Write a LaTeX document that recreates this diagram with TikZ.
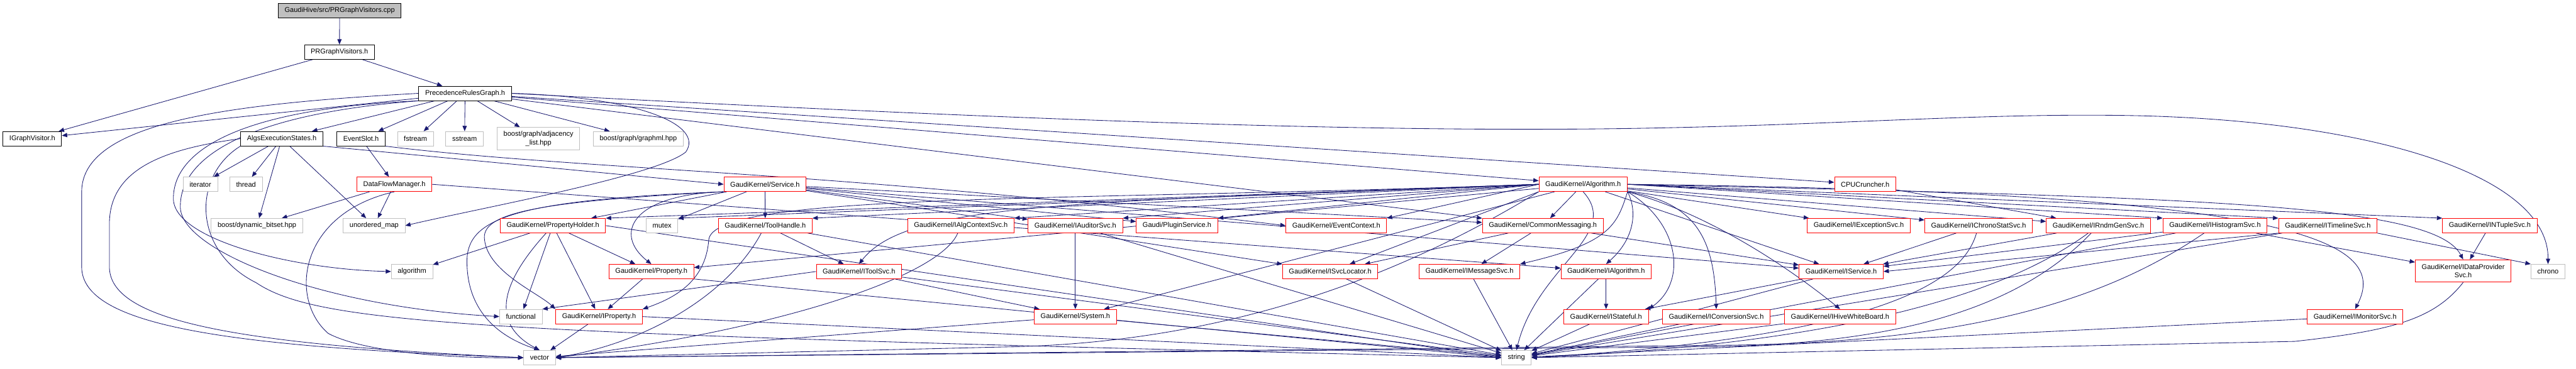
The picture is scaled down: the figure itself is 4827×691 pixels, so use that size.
\documentclass[tikz,border=0pt]{standalone}
\usepackage{fontspec}
\setmainfont{Liberation Sans}
\usetikzlibrary{arrows.meta,backgrounds}
\definecolor{EdgeClr}{HTML}{191970}
\definecolor{ExtClr}{HTML}{BFBFBF}
\definecolor{RootClr}{HTML}{BFBFBF}
\tikzset{
  filebox/.style={rectangle,draw,fill=white,line width=0.5pt,inner xsep=6pt,inner ysep=0pt,
    minimum height=13.5pt,align=center,font=\fontsize{6.5}{8}\selectfont},
  hdr/.style={filebox,draw=black},
  ext/.style={filebox,draw=ExtClr},
  part/.style={filebox,draw=red},
  root/.style={filebox,draw=black,fill=RootClr},
  tall/.style={minimum height=21pt},
  incl/.style={draw=EdgeClr,line width=0.5pt,-{Triangle[length=5pt,width=4pt]}}
}
\begin{document}
\begin{tikzpicture}[x=0.5pt,y=-0.5pt]
\useasboundingbox (0,0) rectangle (4827,691);

\node[root] (cpp) at (636.5,20) {GaudiHive/src/PRGraphVisitors.cpp};
\node[hdr] (prgv) at (636,97.5) {PRGraphVisitors.h};
\node[hdr] (prg) at (871.5,175) {PrecedenceRulesGraph.h};

\node[hdr] (igv) at (60.5,260) {IGraphVisitor.h};
\node[hdr] (aes) at (528,260) {AlgsExecutionStates.h};
\node[hdr] (evs) at (676.5,260) {EventSlot.h};
\node[ext] (fstream) at (778.5,260) {fstream};
\node[ext] (sstream) at (870.5,260) {sstream};
\node[ext,tall] (adjl) at (1009,260) {boost/graph/adjacency\\\_list.hpp};
\node[ext] (graphml) at (1196,260) {boost/graph/graphml.hpp};

\node[ext] (iterator) at (375.5,345.5) {iterator};
\node[ext] (thread) at (461,345.5) {thread};
\node[part] (dfm) at (739,345.5) {DataFlowManager.h};
\node[part] (svc) at (1433.5,345.5) {GaudiKernel/Service.h};
\node[part] (alg) at (2966.5,345.5) {GaudiKernel/Algorithm.h};
\node[part] (cpu) at (3495,345.5) {CPUCruncher.h};

\node[ext] (bitset) at (481.5,423) {boost/dynamic\_bitset.hpp};
\node[ext] (umap) at (701,423) {unordered\_map};
\node[part] (pholder) at (1036,423) {GaudiKernel/PropertyHolder.h};
\node[ext] (mutex) at (1240.5,423) {mutex};
\node[part] (toolh) at (1434,423) {GaudiKernel/ToolHandle.h};
\node[part] (ialgctx) at (1800.5,423) {GaudiKernel/IAlgContextSvc.h};
\node[part] (iaud) at (2015,423) {GaudiKernel/IAuditorSvc.h};
\node[part] (plugin) at (2205.5,423) {Gaudi/PluginService.h};
\node[part] (evctx) at (2504,423) {GaudiKernel/EventContext.h};
\node[part] (cmsg) at (2891,423) {GaudiKernel/CommonMessaging.h};
\node[part] (iexc) at (3483,423) {GaudiKernel/IExceptionSvc.h};
\node[part] (ichrono) at (3707.5,423) {GaudiKernel/IChronoStatSvc.h};
\node[part] (irndm) at (3932,423) {GaudiKernel/IRndmGenSvc.h};
\node[part] (ihisto) at (4150.5,423) {GaudiKernel/IHistogramSvc.h};
\node[part] (itimeline) at (4362,423) {GaudiKernel/ITimelineSvc.h};
\node[part] (intuple) at (4665.5,423) {GaudiKernel/INTupleSvc.h};

\node[ext] (algorithm) at (772,509) {algorithm};
\node[part] (property) at (1220.5,509) {GaudiKernel/Property.h};
\node[part] (itoolsvc) at (1609.5,509) {GaudiKernel/IToolSvc.h};
\node[part] (isvcloc) at (2492.5,509) {GaudiKernel/ISvcLocator.h};
\node[part] (imsg) at (2753.5,509) {GaudiKernel/IMessageSvc.h};
\node[part] (ialgorithm) at (3009.5,509) {GaudiKernel/IAlgorithm.h};
\node[part] (iservice) at (3450,509) {GaudiKernel/IService.h};
\node[part,tall] (idp) at (4615.5,508) {GaudiKernel/IDataProvider\\Svc.h};
\node[ext] (chrono) at (4774.5,509) {chrono};

\node[ext] (functional) at (976,593.5) {functional};
\node[part] (iprop) at (1122.5,593.5) {GaudiKernel/IProperty.h};
\node[part] (system) at (2015,593.5) {GaudiKernel/System.h};
\node[part] (istateful) at (3009.5,593.5) {GaudiKernel/IStateful.h};
\node[part] (iconv) at (3216,593.5) {GaudiKernel/IConversionSvc.h};
\node[part] (ihive) at (3448,593.5) {GaudiKernel/IHiveWhiteBoard.h};
\node[part] (imon) at (4413,593.5) {GaudiKernel/IMonitorSvc.h};

\node[ext] (vector) at (1011,670.5) {vector};
\node[ext] (string) at (2841.5,670.5) {string};

\begin{scope}[on background layer]
\draw[incl] (cpp) -- (prgv);
\draw[incl] (prgv) -- (igv);
\draw[incl] (prgv) -- (prg);
\draw[incl] (prg) -- (igv);
\foreach \dst in {aes,evs,fstream,sstream,adjl,graphml,alg,cpu,cmsg}
  \draw[incl] (prg) -- (\dst);
\draw[incl] (prg.east) .. controls (1900,225) and (2500,245) .. (2950,242)
  .. controls (3400,239) and (3700,210) .. (4010,217)
  .. controls (4450,228) and (4776,330) .. (chrono.north);
\draw[incl] (prg.east) .. controls (1200,182) and (1320,235) .. (1285,285)
  .. controls (1230,330) and (900,390) .. (umap.east);
\draw[incl] (prg.west) .. controls (420,195) and (153,230) .. (153,360) -- (153,500)
  .. controls (153,610) and (420,650) .. (vector.west);
\draw[incl] (prg.south west) .. controls (430,205) and (322,290) .. (325,375)
  .. controls (330,450) and (550,505) .. (algorithm.west);
\draw[incl] (prg.south west) .. controls (450,215) and (335,300) .. (338,390)
  .. controls (342,470) and (600,575) .. (functional.west);

\foreach \dst in {iterator,thread,bitset,umap}
  \draw[incl] (aes) -- (\dst);
\draw[incl] (aes.south east) -- (svc.west);
\draw[incl] (aes.west) .. controls (300,280) and (205,320) .. (205,420) -- (205,500)
  .. controls (205,600) and (430,645) .. (vector.west);
\draw[incl] (aes.south west) .. controls (360,330) and (360,470) .. (480,530)
  .. controls (600,610) and (900,625) .. (string.west);

\draw[incl] (evs) -- (dfm);
\draw[incl] (evs.south east) .. controls (1100,320) and (1550,318) .. (evctx.west);

\draw[incl] (dfm) -- (bitset);
\draw[incl] (dfm) -- (umap);
\draw[incl] (dfm.east) -- (ialgorithm);
\draw[incl] (dfm.south) .. controls (560,400) and (540,560) .. (615,625)
  .. controls (690,665) and (880,672) .. (vector.west);

\foreach \dst in {pholder,mutex,toolh,iaud,plugin,cmsg,isvcloc,iservice}
  \draw[incl] (svc) -- (\dst);
\draw[incl] (svc.south west) .. controls (1180,365) and (1150,440) .. (property.north);
\draw[incl] (svc.south west) .. controls (1000,378) and (900,400) .. (908,450)
  .. controls (915,510) and (1010,550) .. (iprop.north west);
\draw[incl] (svc.south west) .. controls (960,375) and (875,410) .. (875,490)
  .. controls (875,580) and (930,630) .. (vector.north);

\foreach \dst in {algorithm,functional,iprop,property}
  \draw[incl] (pholder) -- (\dst);
\draw[incl] (pholder) .. controls (930,540) and (925,610) .. (vector.north);
\draw[incl] (pholder.east) -- (string.west);

\draw[incl] (property) -- (iprop);
\draw[incl] (property.south east) -- (string.west);
\draw[incl] (iprop) -- (vector);
\draw[incl] (iprop.east) -- (string.west);

\draw[incl] (toolh) -- (itoolsvc);
\draw[incl] (toolh) -- (string);
\draw[incl] (toolh) .. controls (1360,560) and (1200,645) .. (vector.east);
\draw[incl] (itoolsvc.west) -- (functional.north east);
\draw[incl] (itoolsvc) -- (system);
\draw[incl] (itoolsvc) -- (string);
\draw[incl] (ialgctx) .. controls (1760,520) and (1450,620) .. (vector.east);
\draw[incl] (iaud) -- (system);
\draw[incl] (iaud) -- (string);
\draw[incl] (system) -- (vector);
\draw[incl] (system) -- (string);

\draw[incl] (cmsg) -- (imsg);
\draw[incl] (cmsg) -- (isvcloc);
\draw[incl] (cmsg) -- (iservice);
\foreach \src in {isvcloc,imsg,ialgorithm,istateful,iconv,ihive,imon,itimeline,ihisto}
  \draw[incl] (\src) -- (string);
\draw[incl] (ialgorithm) -- (istateful);
\draw[incl] (iservice) -- (istateful);
\draw[incl] (iservice) -- (string);
\draw[incl] (ichrono) -- (iservice);
\draw[incl] (ichrono) .. controls (3680,520) and (3550,630) .. (string.east);
\draw[incl] (irndm) -- (iservice);
\draw[incl] (irndm) .. controls (3800,520) and (3550,640) .. (string.east);
\draw[incl] (irndm) .. controls (3800,560) and (3600,645) .. (3200,650) -- (vector.east);
\draw[incl] (ihisto) -- (iservice);
\draw[incl] (ihisto) -- (idp);
\draw[incl] (ihisto) .. controls (3950,560) and (3700,640) .. (3250,647) -- (vector.east);
\draw[incl] (itimeline.south west) -- (iservice.east);
\draw[incl] (itimeline.south east) -- (chrono.north west);
\draw[incl] (intuple) -- (idp);
\draw[incl] (idp.south) .. controls (4560,600) and (4480,620) .. (4300,640) -- (string.east);
\draw[incl] (cpu) -- (irndm);

\foreach \dst in {pholder,mutex,toolh,ialgctx,iaud,plugin,evctx}
  \draw[incl] (alg.west) -- (\dst.north east);
\foreach \dst in {cmsg,iservice,iexc,ichrono,irndm,system,property}
  \draw[incl] (alg) -- (\dst);
\draw[incl] (alg.east) -- (ihisto.north west);
\draw[incl] (alg.east) -- (itimeline.north west);
\draw[incl] (alg.east) -- (intuple.north west);
\draw[incl] (alg.south west) -- (isvcloc);
\draw[incl] (alg.south east) .. controls (3030,420) and (3020,455) .. (imsg.north east);
\draw[incl] (alg.south east) .. controls (3070,400) and (3060,450) .. (ialgorithm.north);
\draw[incl] (alg.south east) .. controls (3150,420) and (3160,530) .. (istateful.north east);
\draw[incl] (alg.south east) .. controls (3180,380) and (3212,450) .. (iconv.north);
\draw[incl] (alg.south east) .. controls (3200,400) and (3350,500) .. (ihive.north);
\draw[incl] (alg.east) .. controls (4100,370) and (4560,380) .. (idp.north);
\draw[incl] (alg.east) .. controls (4300,360) and (4480,450) .. (imon.north);
\draw[incl] (alg.west) .. controls (2000,380) and (1700,380) .. (itoolsvc.north);
\draw[incl] (alg.west) .. controls (2000,378) and (1335,360) .. (1328,450)
  .. controls (1322,530) and (1260,560) .. (iprop.north east);
\draw[incl] (alg.south) .. controls (3040,440) and (2880,500) .. (string.north);
\draw[incl] (alg.south west) .. controls (2620,520) and (2300,640) .. (1900,650) -- (vector.east);
\end{scope}
\end{tikzpicture}
\end{document}
